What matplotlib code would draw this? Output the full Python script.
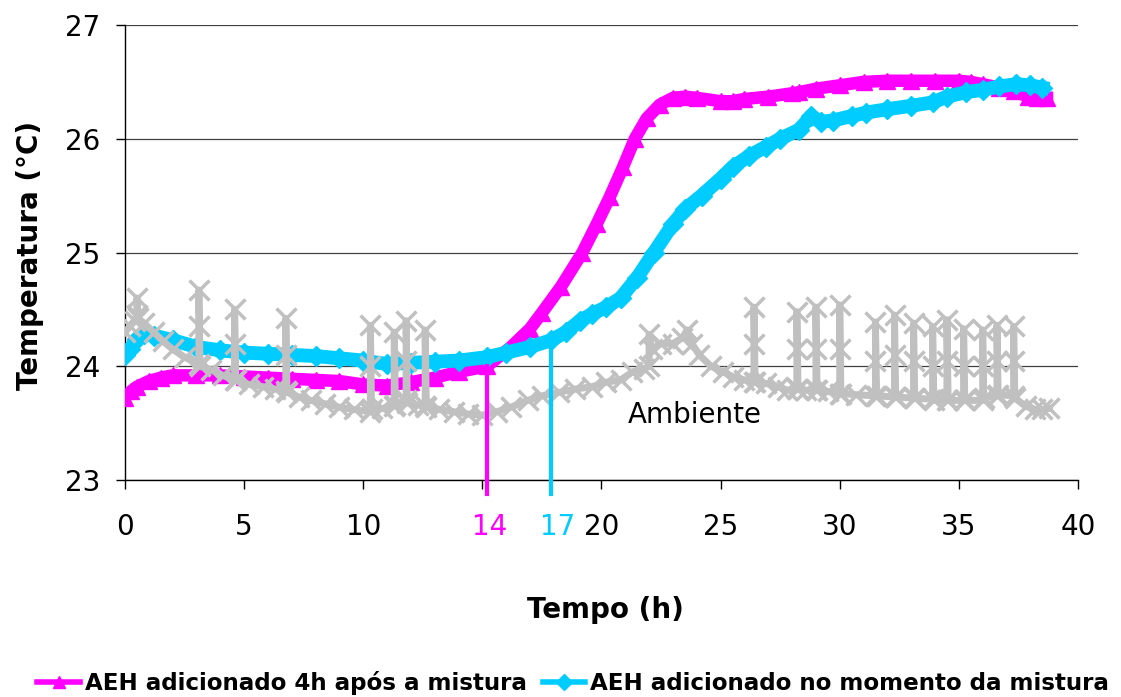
import matplotlib
matplotlib.use("Agg")
import matplotlib.pyplot as plt
from matplotlib.lines import Line2D

plt.rcParams['font.family'] = ['DejaVu Sans']

# AEH adicionado 4h apos a mistura
t_4h = [0, 0.25, 0.5, 1, 1.5, 2, 3, 4, 5, 6, 7, 8, 9, 10, 11, 12, 13, 14,
        15.2, 16.2, 17, 17.5, 18.3, 19.2, 19.8, 20.35, 20.9, 21.4, 21.9, 22.45,
        23, 23.5, 24, 25, 25.5, 26, 27, 28, 28.3, 29, 30, 31, 32, 33, 34, 35,
        35.5, 36, 36.7, 37.3, 37.9, 38.3, 38.7]
T_4h = [23.72, 23.78, 23.82, 23.87, 23.9, 23.92, 23.92, 23.92, 23.91, 23.9,
        23.89, 23.88, 23.87, 23.84, 23.83, 23.86, 23.9, 23.95, 24.0, 24.17,
        24.33, 24.47, 24.7, 25.0, 25.25, 25.49, 25.75, 26.0, 26.18, 26.3,
        26.36, 26.37, 26.36, 26.33, 26.33, 26.35, 26.37, 26.4, 26.41, 26.44,
        26.47, 26.5, 26.51, 26.51, 26.51, 26.51, 26.5, 26.48, 26.45, 26.42,
        26.37, 26.36, 26.36]

# AEH adicionado no momento da mistura
t_0h = [0, 0.2, 0.5, 0.8, 1.2, 2, 3, 4, 5, 6, 7, 8, 9, 10, 11, 12, 13, 14,
        15.2, 16, 17, 17.9, 18.5, 19.1, 19.6, 20.2, 20.8, 21.5, 22.2, 23, 23.5,
        24.2, 25, 25.5, 26.2, 26.9, 27.5, 28.3, 28.8, 29.2, 29.7, 30.5, 31.1,
        32, 33, 33.9, 34.5, 35.3, 36, 36.7, 37.4, 38, 38.5]
T_0h = [24.1, 24.15, 24.24, 24.28, 24.27, 24.23, 24.17, 24.14, 24.12, 24.11,
        24.1, 24.09, 24.07, 24.05, 24.02, 24.03, 24.04, 24.05, 24.08, 24.12,
        24.17, 24.23, 24.3, 24.4, 24.46, 24.52, 24.6, 24.78, 25.0, 25.25,
        25.38, 25.5, 25.65, 25.75, 25.85, 25.93, 26.0, 26.08, 26.2, 26.15,
        26.16, 26.2, 26.23, 26.26, 26.29, 26.32, 26.37, 26.41, 26.43, 26.46,
        26.48, 26.47, 26.45]

# Ambiente (com picos)
t_amb = [0.0, 0.2, 0.4, 0.5, 0.5, 0.55, 0.8, 1.2, 1.6, 2.0, 2.5, 3.1, 3.1, 3.1,
         3.15, 3.6, 4.1, 4.6, 4.6, 4.6, 4.65, 5.2, 5.8, 6.3, 6.75, 6.75, 6.75,
         6.8, 7.3, 7.8, 8.4, 9.0, 9.6, 10.3, 10.3, 10.3, 10.35, 10.8, 11.3,
         11.3, 11.35, 11.8, 11.8, 11.8, 11.85, 12.3, 12.6, 12.6, 12.65, 13.2,
         13.8, 14.4, 15.0, 15.6, 16.2, 16.9, 17.5, 18.2, 18.9, 19.6, 20.2,
         20.8, 21.3, 21.8, 22.0, 22.0, 22.1, 22.5, 23.0, 23.4, 23.6, 23.8,
         24.1, 24.6, 25.1, 25.5, 26.0, 26.4, 26.4, 26.4, 26.45, 26.9, 27.4,
         27.8, 28.2, 28.2, 28.2, 28.25, 28.6, 29.0, 29.0, 29.0, 29.05, 29.5,
         30.0, 30.0, 30.0, 30.05, 30.7, 31.5, 31.5, 31.5, 31.55, 32.3, 32.3,
         32.3, 32.35, 33.1, 33.1, 33.1, 33.15, 33.9, 33.9, 33.9, 33.95, 34.5,
         34.5, 34.5, 34.55, 35.2, 35.2, 35.2, 35.25, 36.0, 36.0, 36.0, 36.05,
         36.6, 36.6, 36.6, 36.65, 37.3, 37.3, 37.3, 37.35, 37.8, 38.2, 38.5,
         38.8]
T_amb = [24.30, 24.35, 24.40, 24.45, 24.60, 24.42, 24.38, 24.30, 24.22, 24.15,
         24.08, 24.02, 24.35, 24.67, 24.0, 23.97, 23.92, 23.88, 24.2, 24.5,
         23.88, 23.84, 23.82, 23.8, 23.78, 24.1, 24.42, 23.77, 23.73, 23.70,
         23.67, 23.64, 23.62, 23.60, 24.0, 24.36, 23.62, 23.63, 23.65, 24.3,
         23.66, 23.7, 24.05, 24.4, 23.68, 23.66, 23.65, 24.32, 23.64, 23.62,
         23.6, 23.58, 23.57, 23.6, 23.64, 23.70, 23.74, 23.77, 23.8, 23.82,
         23.86, 23.88, 23.95, 23.98, 24.0, 24.28, 24.15, 24.2, 24.2, 24.25,
         24.32, 24.2, 24.1, 24.0, 23.95, 23.91, 23.88, 23.86, 24.2, 24.52,
         23.86, 23.85, 23.82, 23.79, 23.8, 24.15, 24.48, 23.8, 23.79, 23.79,
         24.15, 24.52, 23.79, 23.78, 23.76, 24.15, 24.54, 23.76, 23.75, 23.74,
         24.05, 24.39, 23.74, 23.73, 24.1, 24.45, 23.73, 23.72, 24.05, 24.38,
         23.72, 23.71, 24.0, 24.35, 23.7, 23.7, 24.05, 24.41, 23.7, 23.7, 24.0,
         24.33, 23.7, 23.7, 24.0, 24.32, 23.72, 23.74, 24.05, 24.36, 23.75,
         23.74, 24.05, 24.35, 23.72, 23.65, 23.62, 23.62, 23.63]

# marcas de inicio (posicao no grafico, rotulo)
mark_pos = [15.2, 17.9]
mark_top = [24.0, 24.23]
mark_lbl = ['14', '17']

magenta = '#FF00FF'
cyan = '#00CCFF'
gray = '#C0C0C0'

fig = plt.figure(figsize=(11.21, 6.97), dpi=100)
ax = fig.add_axes([0.1115, 0.3113, 0.8501, 0.6528])

ax.plot(t_4h, T_4h, color=magenta, lw=9, marker='^', ms=11, zorder=3)
ax.plot(t_0h, T_0h, color=cyan, lw=10, marker='D', ms=10, zorder=4)
ax.plot(t_amb, T_amb, color=gray, lw=5, marker='x', ms=14, mew=2.5, zorder=5)

for x, top, c in zip(mark_pos, mark_top, [magenta, cyan]):
    ax.plot([x, x], [22.88, top], color=c, lw=3, clip_on=False, zorder=6)

ax.text(21.1, 23.57, 'Ambiente', fontsize=20, ha='left', va='center')

ax.set_xlim(0, 40)
ax.set_ylim(23, 27)
ax.set_yticks([23, 24, 25, 26, 27])
ax.set_xticks([0, 5, 10, 15, 20, 25, 30, 35, 40])
ax.set_xticklabels(['0', '5', '10', '', '20', '25', '30', '35', '40'])
ax.set_xticks([15.3, 18.15], minor=True)
ax.set_xticklabels(mark_lbl, minor=True)
for lbl, c in zip(ax.get_xticklabels(minor=True), [magenta, cyan]):
    lbl.set_color(c)

ax.tick_params(axis='both', which='major', direction='out', length=6.5,
               width=1, labelsize=20)
ax.tick_params(axis='x', which='major', pad=17)
ax.tick_params(axis='x', which='minor', length=0, pad=23.5, labelsize=20)
ax.tick_params(axis='y', pad=11)

ax.grid(axis='y', color='#404040', lw=0.9)
ax.set_axisbelow(True)
for s in ['top', 'right']:
    ax.spines[s].set_visible(False)
for s in ['left', 'bottom']:
    ax.spines[s].set_linewidth(1)

fig.text(30 / 1121, 1 - 255 / 697, 'Temperatura (°C)', rotation=90,
         fontsize=20, fontweight='bold', ha='center', va='center')
fig.text(605 / 1121, 1 - 610 / 697, 'Tempo (h)', fontsize=20,
         fontweight='bold', ha='center', va='center')

handles = [Line2D([], [], color=magenta, lw=4, marker='^', ms=9),
           Line2D([], [], color=cyan, lw=4, marker='D', ms=8)]
labels = ['AEH adicionado 4h após a mistura',
          'AEH adicionado no momento da mistura']
fig.legend(handles, labels, loc='center', bbox_to_anchor=(573 / 1121, 14 / 697),
           ncol=2, frameon=False, prop={'weight': 'bold', 'size': 16.6},
           handlelength=1.85, handletextpad=0.2, columnspacing=0.7,
           borderaxespad=0)

fig.savefig('out.png', dpi=100)
